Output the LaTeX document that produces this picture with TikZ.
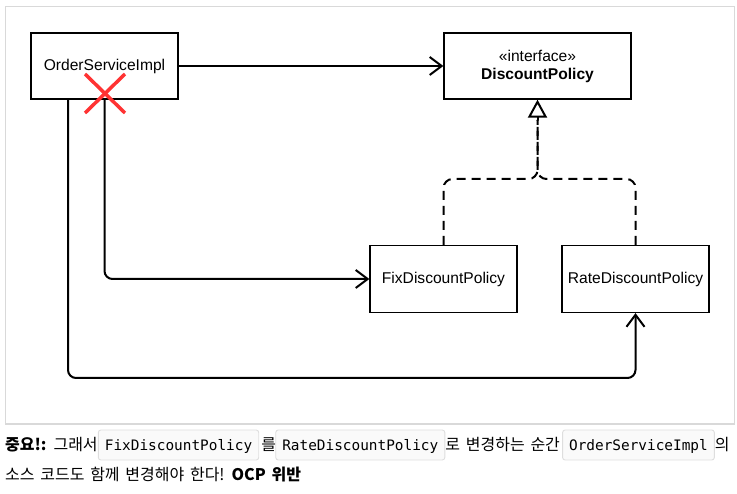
\documentclass[tikz,border=0pt]{standalone}
\usepackage{fontspec}
\setmainfont{Liberation Sans}
\newfontfamily\krfont[WordSpace=1.6]{Noto Sans CJK KR}
\newfontfamily\codefont{DejaVu Sans Mono}
\usetikzlibrary{arrows.meta,positioning}
\begin{document}
\begin{tikzpicture}[x=1pt,y=-1pt,
  box/.style={draw, line width=1.3pt, inner sep=0pt, minimum width=147pt, minimum height=66pt,
    font=\fontsize{15.6}{18}\selectfont, align=center},
  conn/.style={line width=2pt, rounded corners=8pt, -{Straight Barb[length=12pt,width=18pt,line width=2pt]}},
  impl/.style={line width=2pt, dash pattern=on 9pt off 6pt, rounded corners=9pt},
  xmark/.style={draw=red!80!white, line width=3.5pt},
  frame/.style={draw=black!15, line width=1.5pt},
  kr/.style={inner sep=0pt, anchor=base west, font=\krfont\fontsize{16}{16}\selectfont},
  code/.style={draw=black!13, fill=black!2, line width=0.9pt, rounded corners=2.5pt, anchor=base west,
    font=\codefont\fontsize{14.4}{14.4}\selectfont, inner xsep=6.5pt, inner ysep=7pt,
    text height=13pt, text depth=3pt}
]
\useasboundingbox (0,0) rectangle (737,494);
\draw[frame] (5.5,6.5) rectangle (734.5,424);

\node[box] (osi) at (104.5,66) {OrderServiceImpl};
\node[box, minimum width=187pt] (dp) at (537.5,66) {«interface»\\\textbf{DiscountPolicy}};
\node[box, minimum height=67pt] (fix) at (443.5,279) {FixDiscountPolicy};
\node[box, minimum height=67pt] (rate) at (635.5,279) {RateDiscountPolicy};

\coordinate (osiL) at (68,99);
\coordinate (botR) at (635.5,378);
\coordinate (split) at (537.5,179);
\coordinate (tri) at (537.5,120);

\draw[conn] (osi.east) -- (dp.west);
\draw[conn] (osi.south) |- (fix.west);
\draw[conn] (osiL) |- (botR) -- (rate.south);

\draw[impl] (fix.north) |- (split) -- (tri);
\draw[impl] (rate.north) |- (split) -- (tri);
\draw[line width=2pt, -{Triangle[open,length=18pt,width=19pt,line width=2pt]}] (tri) -- (dp.south);

\draw[xmark] (85,74) -- (125,113);
\draw[xmark] (125,74) -- (85,113);

\node[kr] (t1) at (5,450) {\textbf{중요!:} 그래서};
\node[code] (c1) at ([xshift=0pt]t1.base east) {FixDiscountPolicy};
\node[kr] (t2) at ([xshift=2pt]c1.base east) {를};
\node[code] (c2) at ([xshift=-1pt]t2.base east) {RateDiscountPolicy};
\node[kr] (t3) at ([xshift=0pt]c2.base east) {로 변경하는 순간};
\node[code] (c3) at ([xshift=2pt]t3.base east) {OrderServiceImpl};
\node[kr] (t4) at ([xshift=0pt]c3.base east) {의};
\node[kr] (t5) at (5,480) {소스 코드도 함께 변경해야 한다! \textbf{OCP 위반}};
\end{tikzpicture}
\end{document}
